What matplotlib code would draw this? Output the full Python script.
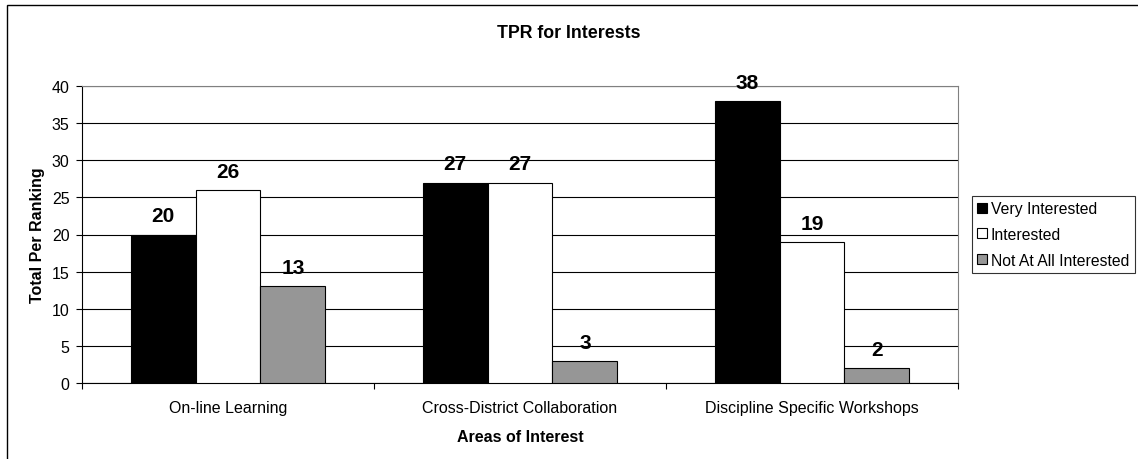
import numpy as np
import matplotlib
matplotlib.use("Agg")
import matplotlib.pyplot as plt
from matplotlib.patches import Rectangle, Patch

plt.rcParams['font.family'] = ['Liberation Sans', 'DejaVu Sans']

# data
categories = ['On-line Learning', 'Cross-District Collaboration', 'Discipline Specific Workshops']
series_names = ['Very Interested', 'Interested', 'Not At All Interested']
very_interested = [20, 27, 38]
interested = [26, 27, 19]
not_interested = [13, 3, 2]
colors = ['#000000', '#ffffff', '#969696']

fig = plt.figure(figsize=(11.38, 4.6), dpi=100)
ax = fig.add_axes([82 / 1138, 76 / 460, 876 / 1138, 297 / 460])

# outer chart border (cut off at right/bottom like the original)
fig.patches.append(Rectangle((7 / 1138, -0.2), 1.2, 1.2 - 6 / 460,
                             transform=fig.transFigure, fill=False,
                             edgecolor='black', linewidth=1.0))

x = np.arange(len(categories))
width = 1 / 4.5
all_series = [very_interested, interested, not_interested]
for i, (vals, col) in enumerate(zip(all_series, colors)):
    pos = x + (i - 1) * width
    bars = ax.bar(pos, vals, width, color=col, edgecolor='black', linewidth=0.8, zorder=3)
    for b, v in zip(bars, vals):
        ax.annotate(str(v), (b.get_x() + b.get_width() / 2, v), xytext=(0, 9.5),
                    textcoords='offset points', ha='center', va='baseline',
                    fontsize=15, fontweight='bold')

ax.set_xlim(-0.5, 2.5)
ax.set_ylim(0, 40)
ax.set_yticks(range(0, 41, 5))
ax.yaxis.grid(True, color='black', linewidth=0.8, zorder=0)
ax.set_axisbelow(True)

ax.set_xticks(x)
ax.set_xticklabels(categories, fontsize=11.5)
ax.set_xticks([-0.5, 0.5, 1.5, 2.5], minor=True)
ax.tick_params(axis='x', which='major', length=0, pad=12)
ax.tick_params(axis='x', which='minor', length=4, width=0.8, direction='out')
ax.tick_params(axis='y', length=4, width=0.8, direction='out', pad=5, labelsize=11.5)

for s in ['left', 'bottom']:
    ax.spines[s].set_color('black')
    ax.spines[s].set_linewidth(0.8)
for s in ['top', 'right']:
    ax.spines[s].set_color('#808080')
    ax.spines[s].set_linewidth(0.8)

ax.set_xlabel('Areas of Interest', fontsize=11.5, fontweight='bold', labelpad=10)
ax.set_ylabel('Total Per Ranking', fontsize=11.5, fontweight='bold', labelpad=5)
fig.text(0.5, 1 - 33 / 460, 'TPR for Interests', ha='center', va='center',
         fontsize=12.8, fontweight='bold')

handles = [Patch(facecolor=c, edgecolor='black', linewidth=0.8) for c in colors]
leg = fig.legend(handles, series_names, loc='center left',
                 bbox_to_anchor=(972 / 1138, 1 - 235.5 / 460), fontsize=11.3,
                 frameon=True, fancybox=False, edgecolor='black',
                 handlelength=0.6, handleheight=0.6, handletextpad=0.25,
                 borderpad=0.35, labelspacing=0.68, borderaxespad=0)
leg.get_frame().set_linewidth(0.8)

fig.savefig('out.png', dpi=100)
